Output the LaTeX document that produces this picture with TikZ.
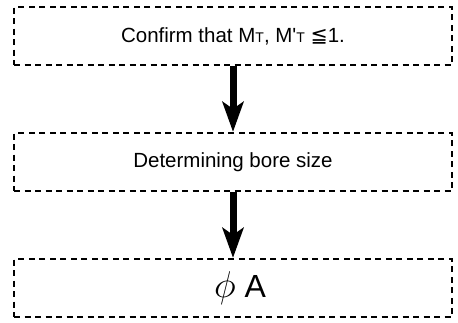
\documentclass[tikz,border=0pt]{standalone}
\usepackage{fontspec}
\setmainfont{Liberation Sans}
\newfontfamily\simbolos{DejaVu Sans}
\usepackage{tikz}
\usetikzlibrary{positioning,arrows.meta}

\begin{document}
\begin{tikzpicture}[x=1pt, y=-1pt,
    paso/.style={draw=black, line width=2.2pt, dash pattern=on 6pt off 4.5pt,
                 minimum width=438pt, minimum height=58pt, inner sep=0pt,
                 font=\fontsize{20.5}{24}\selectfont},
    flecha/.style={-{Stealth[length=30pt, width=21pt, inset=7pt]}, line width=7pt, black}]
  \useasboundingbox (0,0) rectangle (458,322);
  \node[paso] (confirmar) at (233,36)
    {Confirm that M{\fontsize{14}{16}\selectfont T}, M\textquotesingle{\fontsize{14}{16}\selectfont T} {\simbolos ≦}1.};
  \node[paso] (diametro) at (233,162)
    {Determining bore size};
  \node[paso, font=\fontsize{32}{36}\selectfont] (resultado) at (233,288)
    {\hspace{14pt}\scalebox{1.5}{$\phi$}\hspace{9pt}A};
  \draw[flecha] (confirmar.south) -- (diametro.north);
  \draw[flecha] (diametro.south) -- (resultado.north);
\end{tikzpicture}
\end{document}
